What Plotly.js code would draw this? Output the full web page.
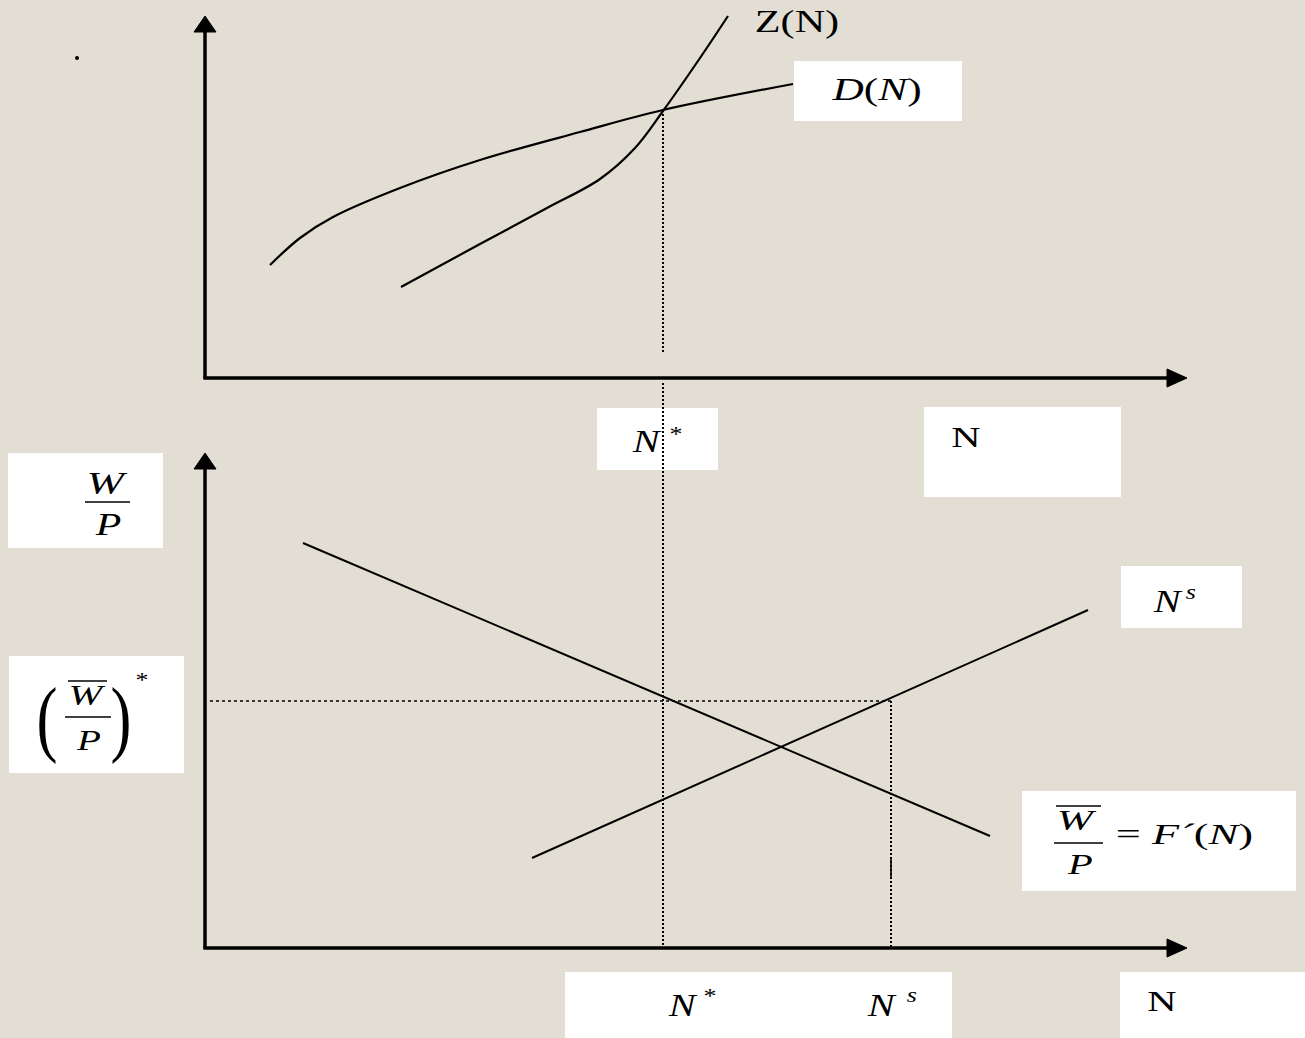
<!DOCTYPE html>
<html><head><meta charset="utf-8">
<script src="https://cdn.plot.ly/plotly-3.0.1.min.js"></script>
<style>html,body{margin:0;padding:0;background:#E3DED3;} #chart{width:1305px;height:1038px;}</style>
</head><body><div id="chart"></div>
<script>
// Diagram units: page-like coordinates, y increases downward
// Top panel: aggregate demand D(N) and aggregate supply Z(N)
const dCurveX = [270, 300, 333, 400, 480, 580, 663, 793];
const dCurveY = [265, 238, 217, 188, 160, 132, 110, 84];
const zCurveX = [401, 480, 547, 600, 635, 663, 700, 728];
const zCurveY = [287, 244, 208, 179, 148, 111, 58, 16];
// Bottom panel: labour demand W/P = F'(N) and labour supply N^s
const demandX = [303, 990];
const demandY = [543, 836];
const supplyX = [532, 1088];
const supplyY = [858, 610];
// Key levels
const nStarX = 663;
const nSupplyX = 891;
const wStarY = 701;
// Axes (origin, tips)
const topOrigin = [205, 378];
const bottomOrigin = [205, 948];
const axisTipX = 1187;
const topAxisTipY = 16;
const bottomAxisTipY = 453;

const BG = '#E3DED3';
const FONT = 'Liberation Serif, Times New Roman, serif';
const ink = '#000000';

function line(xs, ys, w, dash, shape) {
  return {x: xs, y: ys, type: 'scatter', mode: 'lines', hoverinfo: 'skip',
    line: {color: ink, width: w, dash: dash || 'solid', shape: shape || 'linear', smoothing: 1}};
}
function tri(xs, ys) {
  return {x: xs, y: ys, type: 'scatter', mode: 'lines', fill: 'toself', fillcolor: ink,
    hoverinfo: 'skip', line: {color: ink, width: 1}};
}
const ah = 16, aw = 11;
const traces = [];
// axes
[topOrigin, bottomOrigin].forEach((o, i) => {
  const tipY = i === 0 ? topAxisTipY : bottomAxisTipY;
  traces.push(line([o[0], o[0]], [o[1] + 1, tipY + ah], 3.5));
  traces.push(tri([o[0] - aw, o[0], o[0] + aw, o[0] - aw], [tipY + ah, tipY, tipY + ah, tipY + ah]));
  traces.push(line([o[0] - 1.5, axisTipX - ah], [o[1], o[1]], 3.5));
  traces.push(tri([axisTipX - ah - 4, axisTipX, axisTipX - ah - 4, axisTipX - ah - 4], [o[1] - 9, o[1], o[1] + 9, o[1] - 9]));
});
// curves
traces.push(line(dCurveX, dCurveY, 2.2, 'solid', 'spline'));
traces.push(line(zCurveX, zCurveY, 2.2, 'solid', 'spline'));
traces.push(line(demandX, demandY, 2));
traces.push(line(supplyX, supplyY, 2));
// dotted guides
traces.push(line([nStarX, nStarX], [dCurveY[6], 352], 2, '2px,2px'));
traces.push(line([nStarX, nStarX], [383, bottomOrigin[1]], 2, '2px,2px'));
traces.push(line([210, nSupplyX], [wStarY, wStarY], 1.5, '3px,3px'));
traces.push(line([nSupplyX, nSupplyX], [wStarY, bottomOrigin[1]], 2, '2px,2px'));
traces.push(line([nSupplyX, nSupplyX], [858, 878], 1.6));
// stray dot
traces.push({x: [77], y: [58], type: 'scatter', mode: 'markers', hoverinfo: 'skip',
  marker: {color: ink, size: 4}});

const boxes = [
  [794, 61, 962, 121],
  [597, 408, 718, 470],
  [924, 407, 1121, 497],
  [8, 453, 163, 548],
  [9, 656, 184, 773],
  [1121, 566, 1242, 628],
  [1022, 791, 1296, 891],
  [565, 972, 952, 1038],
  [1120, 972, 1305, 1038]
];
const shapes = boxes.map(b => ({type: 'rect', xref: 'x', yref: 'y', x0: b[0], y0: b[1], x1: b[2], y1: b[3],
  fillcolor: '#FFFFFF', line: {width: 0}, layer: 'below'}));
function bar(x0, x1, y) {
  return {type: 'line', xref: 'x', yref: 'y', x0: x0, x1: x1, y0: y, y1: y, line: {color: ink, width: 1.5}, layer: 'above'};
}
shapes.push(bar(85, 130, 502));     // W/P fraction bar
shapes.push(bar(65, 111, 717));     // (W/P)* fraction bar
shapes.push(bar(68, 107, 681));     // overline
shapes.push(bar(1054, 1103, 843));  // F'(N) fraction bar
shapes.push(bar(1056, 1101, 806));  // overline

// [x, y, text, size, horizontal stretch]
const labels = [
  [797, 21, 'Z(N)', 31, 1.36],
  [876, 89, '<i>D</i>(<i>N</i>)', 31, 1.4],
  [647, 441, '<i>N</i>', 31, 1.3],
  [676, 434, '*', 20, 1.3],
  [966, 436, 'N', 30, 1.35],
  [107, 483, '<i>W</i>', 31, 1.45],
  [108, 524, '<i>P</i>', 31, 1.35],
  [47, 718, '(', 84, 0.75],
  [121, 718, ')', 84, 0.75],
  [87, 695, '<i>W</i>', 29, 1.4],
  [88, 740, '<i>P</i>', 29, 1.35],
  [142, 680, '*', 20, 1.3],
  [1077, 819, '<i>W</i>', 30, 1.45],
  [1079, 863, '<i>P</i>', 30, 1.35],
  [1184, 834, '= <i>F´</i>(<i>N</i>)', 30, 1.48],
  [1168, 601, '<i>N</i>', 31, 1.3],
  [1191, 592, '<i>s</i>', 20, 1.3],
  [683, 1005, '<i>N</i>', 31, 1.3],
  [710, 996, '*', 20, 1.3],
  [882, 1005, '<i>N</i>', 31, 1.3],
  [912, 995, '<i>s</i>', 20, 1.3],
  [1162, 1000, 'N', 30, 1.35]
];
const annotations = labels.map(l => ({x: l[0], y: l[1], xref: 'x', yref: 'y', text: l[2], showarrow: false,
  xanchor: 'center', yanchor: 'middle', font: {family: FONT, size: l[3], color: ink}}));

const layout = {
  width: 1305, height: 1038,
  margin: {l: 0, r: 0, t: 0, b: 0},
  paper_bgcolor: BG, plot_bgcolor: BG,
  showlegend: false, hovermode: false,
  xaxis: {range: [0, 1305], visible: false, fixedrange: true},
  yaxis: {range: [1038, 0], visible: false, fixedrange: true},
  shapes: shapes, annotations: annotations
};
Plotly.newPlot('chart', traces, layout, {staticPlot: true, displayModeBar: false}).then(gd => {
  const groups = gd.querySelectorAll('.annotation');
  groups.forEach(g => {
    const idx = +g.getAttribute('data-index');
    const t = g.querySelector('.annotation-text');
    if (!t || !labels[idx]) return;
    t.style.transformBox = 'fill-box';
    t.style.transformOrigin = 'center';
    t.style.transform = 'scaleX(' + labels[idx][4] + ')';
  });
});
</script>
</body></html>
